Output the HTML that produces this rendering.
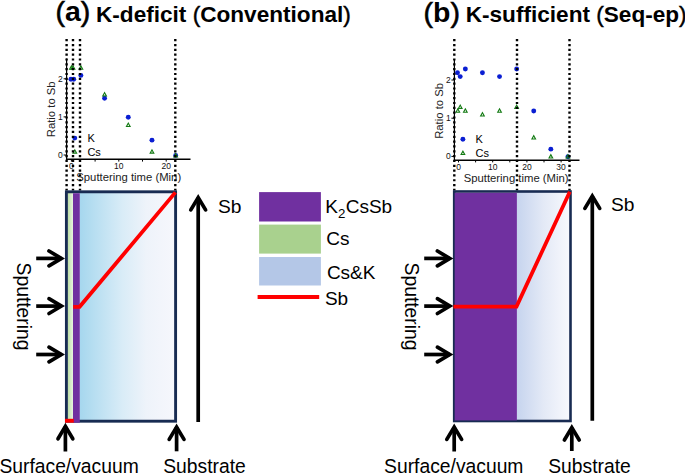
<!DOCTYPE html>
<html><head><meta charset="utf-8"><title>K-deficit vs K-sufficient</title>
<style>
html,body{margin:0;padding:0;background:#fff;}
body{width:685px;height:474px;overflow:hidden;}
svg{display:block;}
svg text{font-family:"Liberation Sans",sans-serif;}
</style></head>
<body>
<svg width="685" height="474" viewBox="0 0 685 474">
<rect width="685" height="474" fill="#fff"/>
<text x="55.4" y="20.9" font-size="28.5" font-weight="bold"><tspan font-weight="normal" stroke="#000" stroke-width="0.6">(</tspan>a<tspan font-weight="normal" stroke="#000" stroke-width="0.6">)</tspan></text>
<text x="96.0" y="21.8" font-size="22.6" font-weight="bold">K-deficit <tspan font-weight="normal" stroke="#000" stroke-width="0.45">(</tspan>Conventional<tspan font-weight="normal" stroke="#000" stroke-width="0.45">)</tspan></text>
<text x="423.5" y="21.6" font-size="28.5" font-weight="bold"><tspan font-weight="normal" stroke="#000" stroke-width="0.6">(</tspan>b<tspan font-weight="normal" stroke="#000" stroke-width="0.6">)</tspan></text>
<text x="465.7" y="21.8" font-size="22.6" font-weight="bold">K-sufficient <tspan font-weight="normal" stroke="#000" stroke-width="0.45">(</tspan>Seq-ep<tspan font-weight="normal" stroke="#000" stroke-width="0.45">)</tspan></text>
<line x1="66.6" y1="58.5" x2="66.6" y2="160" stroke="#000" stroke-width="1.2"/>
<line x1="66" y1="159.3" x2="190.5" y2="159.3" stroke="#000" stroke-width="1.4"/>
<line x1="63.6" y1="155.00" x2="66.6" y2="155.00" stroke="#000" stroke-width="1"/>
<text x="62.8" y="158.0" font-size="8.5" font-weight="normal" text-anchor="end" fill="#111">0</text>
<line x1="63.6" y1="116.90" x2="66.6" y2="116.90" stroke="#000" stroke-width="1"/>
<text x="62.8" y="119.9" font-size="8.5" font-weight="normal" text-anchor="end" fill="#111">1</text>
<line x1="63.6" y1="78.80" x2="66.6" y2="78.80" stroke="#000" stroke-width="1"/>
<text x="62.8" y="81.8" font-size="8.5" font-weight="normal" text-anchor="end" fill="#111">2</text>
<line x1="71.40" y1="159.3" x2="71.40" y2="161.6" stroke="#000" stroke-width="1"/>
<line x1="95.10" y1="159.3" x2="95.10" y2="161.6" stroke="#000" stroke-width="1"/>
<line x1="118.80" y1="159.3" x2="118.80" y2="161.6" stroke="#000" stroke-width="1"/>
<line x1="142.50" y1="159.3" x2="142.50" y2="161.6" stroke="#000" stroke-width="1"/>
<line x1="166.20" y1="159.3" x2="166.20" y2="161.6" stroke="#000" stroke-width="1"/>
<text x="71.4" y="168.8" font-size="8.5" font-weight="normal" text-anchor="middle" fill="#111">0</text>
<text x="118.8" y="168.8" font-size="8.5" font-weight="normal" text-anchor="middle" fill="#111">10</text>
<text x="166.2" y="168.8" font-size="8.5" font-weight="normal" text-anchor="middle" fill="#111">20</text>
<text x="0" y="0" font-size="11.3" transform="translate(55.3 109.3) rotate(-90)" text-anchor="middle" fill="#222">Ratio to Sb</text>
<text x="76.3" y="180.7" font-size="11.3" font-weight="normal" text-anchor="start" fill="#222">Sputtering time (Min)</text>
<circle cx="70.93" cy="79.20" r="2.45" fill="#0a1ed2"/>
<circle cx="73.77" cy="79.20" r="2.45" fill="#0a1ed2"/>
<circle cx="80.88" cy="75.39" r="2.45" fill="#0a1ed2"/>
<circle cx="104.58" cy="98.25" r="2.45" fill="#0a1ed2"/>
<circle cx="128.28" cy="117.30" r="2.45" fill="#0a1ed2"/>
<circle cx="151.98" cy="140.16" r="2.45" fill="#0a1ed2"/>
<circle cx="175.68" cy="155.40" r="2.45" fill="#0a1ed2"/>
<path d="M71.40 64.87 L74.15 69.87 L68.65 69.87 Z M70.51 68.77 L72.29 68.77 L71.40 67.15 Z" fill="#137a13" fill-rule="evenodd"/>
<path d="M73.01 64.87 L75.76 69.87 L70.26 69.87 Z M72.12 68.77 L73.90 68.77 L73.01 67.15 Z" fill="#137a13" fill-rule="evenodd"/>
<path d="M80.88 64.87 L83.63 69.87 L78.13 69.87 Z M79.99 68.77 L81.77 68.77 L80.88 67.15 Z" fill="#137a13" fill-rule="evenodd"/>
<path d="M104.58 91.54 L107.33 96.54 L101.83 96.54 Z M103.69 95.44 L105.47 95.44 L104.58 93.82 Z" fill="#137a13" fill-rule="evenodd"/>
<path d="M128.28 122.02 L131.03 127.02 L125.53 127.02 Z M127.39 125.92 L129.17 125.92 L128.28 124.30 Z" fill="#137a13" fill-rule="evenodd"/>
<path d="M151.98 148.69 L154.73 153.69 L149.23 153.69 Z M151.09 152.59 L152.87 152.59 L151.98 150.97 Z" fill="#137a13" fill-rule="evenodd"/>
<path d="M175.68 152.50 L178.43 157.50 L172.93 157.50 Z M174.79 156.40 L176.57 156.40 L175.68 154.78 Z" fill="#137a13" fill-rule="evenodd"/>
<circle cx="74.80" cy="138.10" r="2.45" fill="#0a1ed2"/>
<path d="M74.80 148.70 L77.55 153.70 L72.05 153.70 Z M73.91 152.60 L75.69 152.60 L74.80 150.98 Z" fill="#137a13" fill-rule="evenodd"/>
<text x="87.4" y="141.8" font-size="11" font-weight="normal" text-anchor="start" >K</text>
<text x="87.4" y="155.7" font-size="11" font-weight="normal" text-anchor="start" >Cs</text>
<line x1="66.6" y1="39.1" x2="66.6" y2="190.5" stroke="#000" stroke-width="2.4" stroke-dasharray="2.2 2.63"/>
<line x1="73.0" y1="39.1" x2="73.0" y2="190.5" stroke="#000" stroke-width="2.4" stroke-dasharray="2.2 2.63"/>
<line x1="80.0" y1="39.1" x2="80.0" y2="190.5" stroke="#000" stroke-width="2.4" stroke-dasharray="2.2 2.63"/>
<line x1="175.3" y1="39.1" x2="175.3" y2="190.5" stroke="#000" stroke-width="2.4" stroke-dasharray="2.2 2.63"/>
<line x1="454.4" y1="59.3" x2="454.4" y2="161" stroke="#000" stroke-width="1.2"/>
<line x1="454" y1="160.2" x2="579.5" y2="160.2" stroke="#000" stroke-width="1.4"/>
<line x1="451.4" y1="156.40" x2="454.4" y2="156.40" stroke="#000" stroke-width="1"/>
<text x="450.8" y="159.4" font-size="8.5" font-weight="normal" text-anchor="end" fill="#111">0</text>
<line x1="451.4" y1="118.20" x2="454.4" y2="118.20" stroke="#000" stroke-width="1"/>
<text x="450.8" y="121.2" font-size="8.5" font-weight="normal" text-anchor="end" fill="#111">1</text>
<line x1="451.4" y1="80.00" x2="454.4" y2="80.00" stroke="#000" stroke-width="1"/>
<text x="450.8" y="83.0" font-size="8.5" font-weight="normal" text-anchor="end" fill="#111">2</text>
<line x1="458.50" y1="160.2" x2="458.50" y2="162.4" stroke="#000" stroke-width="1"/>
<line x1="475.60" y1="160.2" x2="475.60" y2="162.4" stroke="#000" stroke-width="1"/>
<line x1="492.70" y1="160.2" x2="492.70" y2="162.4" stroke="#000" stroke-width="1"/>
<line x1="509.80" y1="160.2" x2="509.80" y2="162.4" stroke="#000" stroke-width="1"/>
<line x1="526.90" y1="160.2" x2="526.90" y2="162.4" stroke="#000" stroke-width="1"/>
<line x1="544.00" y1="160.2" x2="544.00" y2="162.4" stroke="#000" stroke-width="1"/>
<line x1="561.10" y1="160.2" x2="561.10" y2="162.4" stroke="#000" stroke-width="1"/>
<text x="458.5" y="170.0" font-size="8.5" font-weight="normal" text-anchor="middle" fill="#111">0</text>
<text x="492.7" y="170.0" font-size="8.5" font-weight="normal" text-anchor="middle" fill="#111">10</text>
<text x="526.9" y="170.0" font-size="8.5" font-weight="normal" text-anchor="middle" fill="#111">20</text>
<text x="561.1" y="170.0" font-size="8.5" font-weight="normal" text-anchor="middle" fill="#111">30</text>
<text x="0" y="0" font-size="11.3" transform="translate(443.4 110.9) rotate(-90)" text-anchor="middle" fill="#222">Ratio to Sb</text>
<text x="463.7" y="182.3" font-size="11.3" font-weight="normal" text-anchor="start" fill="#222">Sputtering time (Min)</text>
<circle cx="457.47" cy="72.76" r="2.45" fill="#0a1ed2"/>
<circle cx="460.21" cy="76.58" r="2.45" fill="#0a1ed2"/>
<circle cx="465.34" cy="68.94" r="2.45" fill="#0a1ed2"/>
<circle cx="482.44" cy="72.76" r="2.45" fill="#0a1ed2"/>
<circle cx="499.54" cy="76.58" r="2.45" fill="#0a1ed2"/>
<circle cx="516.64" cy="68.94" r="2.45" fill="#0a1ed2"/>
<circle cx="533.74" cy="110.96" r="2.45" fill="#0a1ed2"/>
<circle cx="550.84" cy="149.16" r="2.45" fill="#0a1ed2"/>
<circle cx="567.94" cy="156.80" r="2.45" fill="#0a1ed2"/>
<path d="M457.82 107.76 L460.57 112.76 L455.07 112.76 Z M456.93 111.66 L458.71 111.66 L457.82 110.04 Z" fill="#137a13" fill-rule="evenodd"/>
<path d="M460.21 103.94 L462.96 108.94 L457.46 108.94 Z M459.32 107.84 L461.10 107.84 L460.21 106.22 Z" fill="#137a13" fill-rule="evenodd"/>
<path d="M465.34 107.76 L468.09 112.76 L462.59 112.76 Z M464.45 111.66 L466.23 111.66 L465.34 110.04 Z" fill="#137a13" fill-rule="evenodd"/>
<path d="M482.44 111.58 L485.19 116.58 L479.69 116.58 Z M481.55 115.48 L483.33 115.48 L482.44 113.86 Z" fill="#137a13" fill-rule="evenodd"/>
<path d="M499.54 107.76 L502.29 112.76 L496.79 112.76 Z M498.65 111.66 L500.43 111.66 L499.54 110.04 Z" fill="#137a13" fill-rule="evenodd"/>
<path d="M516.64 103.94 L519.39 108.94 L513.89 108.94 Z M515.75 107.84 L517.53 107.84 L516.64 106.22 Z" fill="#137a13" fill-rule="evenodd"/>
<path d="M533.74 134.50 L536.49 139.50 L530.99 139.50 Z M532.85 138.40 L534.63 138.40 L533.74 136.78 Z" fill="#137a13" fill-rule="evenodd"/>
<path d="M550.84 153.60 L553.59 158.60 L548.09 158.60 Z M549.95 157.50 L551.73 157.50 L550.84 155.88 Z" fill="#137a13" fill-rule="evenodd"/>
<path d="M567.94 153.60 L570.69 158.60 L565.19 158.60 Z M567.05 157.50 L568.83 157.50 L567.94 155.88 Z" fill="#137a13" fill-rule="evenodd"/>
<circle cx="462.90" cy="139.20" r="2.45" fill="#0a1ed2"/>
<path d="M462.90 150.10 L465.65 155.10 L460.15 155.10 Z M462.01 154.00 L463.79 154.00 L462.90 152.38 Z" fill="#137a13" fill-rule="evenodd"/>
<text x="475.5" y="142.9" font-size="11" font-weight="normal" text-anchor="start" >K</text>
<text x="475.5" y="156.9" font-size="11" font-weight="normal" text-anchor="start" >Cs</text>
<line x1="454.3" y1="39.1" x2="454.3" y2="190.5" stroke="#000" stroke-width="2.4" stroke-dasharray="2.2 2.63"/>
<line x1="517.0" y1="39.1" x2="517.0" y2="190.5" stroke="#000" stroke-width="2.4" stroke-dasharray="2.2 2.63"/>
<line x1="569.5" y1="39.1" x2="569.5" y2="190.5" stroke="#000" stroke-width="2.4" stroke-dasharray="2.2 2.63"/>
<defs>
<linearGradient id="ga" x1="0" x2="1" y1="0" y2="0">
 <stop offset="0" stop-color="#a6d7ee"/><stop offset="0.45" stop-color="#d9ecf7"/><stop offset="0.7" stop-color="#eef3fa"/><stop offset="1" stop-color="#f6f7fc"/>
</linearGradient>
<linearGradient id="gg" x1="0" x2="1" y1="0" y2="0">
 <stop offset="0" stop-color="#bddfa6"/><stop offset="1" stop-color="#e8f3e0"/>
</linearGradient>
<linearGradient id="gb" x1="0" x2="1" y1="0" y2="0">
 <stop offset="0" stop-color="#c6d4ee"/><stop offset="0.5" stop-color="#e3e9f6"/><stop offset="1" stop-color="#f8f9fd"/>
</linearGradient>
</defs>
<rect x="79.8" y="192" width="95" height="229" fill="url(#ga)"/>
<rect x="67.7" y="192" width="5.4" height="229" fill="url(#gg)"/>
<rect x="66.4" y="191.8" width="109.2" height="229.4" fill="none" stroke="#182b52" stroke-width="2.9"/>
<rect x="73.0" y="193.2" width="6.8" height="229.5" fill="#7030a0"/>
<rect x="65" y="418.8" width="8.8" height="3.9" fill="#ff0000"/>
<polyline points="73.2,306.8 79.6,306.8 175.4,192.4" fill="none" stroke="#ff0000" stroke-width="3.8" stroke-linejoin="miter"/>
<rect x="516.9" y="192" width="53" height="229" fill="url(#gb)"/>
<rect x="454.2" y="191.5" width="116.3" height="229.5" fill="none" stroke="#182b52" stroke-width="2.6"/>
<rect x="454.7" y="192.8" width="62.2" height="227.6" fill="#7030a0"/>
<polyline points="453.4,306.6 516.5,306.6 569.8,191.7" fill="none" stroke="#ff0000" stroke-width="3.8" stroke-linejoin="miter"/>
<line x1="198.2" y1="421.9" x2="198.2" y2="197.51" stroke="#000" stroke-width="3.7"/>
<polyline points="190.80,209.90 198.2,197.51 205.60,209.90" fill="none" stroke="#000" stroke-width="3.7" stroke-linecap="round" stroke-linejoin="miter" stroke-miterlimit="10"/>
<line x1="592.3" y1="420.8" x2="592.3" y2="196.01" stroke="#000" stroke-width="3.7"/>
<polyline points="584.90,208.40 592.3,196.01 599.70,208.40" fill="none" stroke="#000" stroke-width="3.7" stroke-linecap="round" stroke-linejoin="miter" stroke-miterlimit="10"/>
<line x1="36.2" y1="258.4" x2="61.39" y2="258.4" stroke="#000" stroke-width="3.7"/>
<polyline points="49.00,251.00 61.39,258.4 49.00,265.80" fill="none" stroke="#000" stroke-width="3.7" stroke-linecap="round" stroke-linejoin="miter" stroke-miterlimit="10"/>
<line x1="424.2" y1="258.4" x2="449.79" y2="258.4" stroke="#000" stroke-width="3.7"/>
<polyline points="437.40,251.00 449.79,258.4 437.40,265.80" fill="none" stroke="#000" stroke-width="3.7" stroke-linecap="round" stroke-linejoin="miter" stroke-miterlimit="10"/>
<line x1="36.2" y1="306.1" x2="61.39" y2="306.1" stroke="#000" stroke-width="3.7"/>
<polyline points="49.00,298.70 61.39,306.1 49.00,313.50" fill="none" stroke="#000" stroke-width="3.7" stroke-linecap="round" stroke-linejoin="miter" stroke-miterlimit="10"/>
<line x1="424.2" y1="306.1" x2="449.79" y2="306.1" stroke="#000" stroke-width="3.7"/>
<polyline points="437.40,298.70 449.79,306.1 437.40,313.50" fill="none" stroke="#000" stroke-width="3.7" stroke-linecap="round" stroke-linejoin="miter" stroke-miterlimit="10"/>
<line x1="36.2" y1="354.5" x2="61.39" y2="354.5" stroke="#000" stroke-width="3.7"/>
<polyline points="49.00,347.10 61.39,354.5 49.00,361.90" fill="none" stroke="#000" stroke-width="3.7" stroke-linecap="round" stroke-linejoin="miter" stroke-miterlimit="10"/>
<line x1="424.2" y1="354.5" x2="449.79" y2="354.5" stroke="#000" stroke-width="3.7"/>
<polyline points="437.40,347.10 449.79,354.5 437.40,361.90" fill="none" stroke="#000" stroke-width="3.7" stroke-linecap="round" stroke-linejoin="miter" stroke-miterlimit="10"/>
<line x1="65.4" y1="451.5" x2="65.4" y2="426.41" stroke="#000" stroke-width="3.7"/>
<polyline points="58.00,438.80 65.4,426.41 72.80,438.80" fill="none" stroke="#000" stroke-width="3.7" stroke-linecap="round" stroke-linejoin="miter" stroke-miterlimit="10"/>
<line x1="176.6" y1="451.3" x2="176.6" y2="427.01" stroke="#000" stroke-width="3.7"/>
<polyline points="169.20,439.40 176.6,427.01 184.00,439.40" fill="none" stroke="#000" stroke-width="3.7" stroke-linecap="round" stroke-linejoin="miter" stroke-miterlimit="10"/>
<line x1="454.2" y1="451.5" x2="454.2" y2="427.01" stroke="#000" stroke-width="3.7"/>
<polyline points="446.80,439.40 454.2,427.01 461.60,439.40" fill="none" stroke="#000" stroke-width="3.7" stroke-linecap="round" stroke-linejoin="miter" stroke-miterlimit="10"/>
<line x1="571.8" y1="451.0" x2="571.8" y2="427.61" stroke="#000" stroke-width="3.7"/>
<polyline points="564.40,440.00 571.8,427.61 579.20,440.00" fill="none" stroke="#000" stroke-width="3.7" stroke-linecap="round" stroke-linejoin="miter" stroke-miterlimit="10"/>
<text x="218.0" y="212.6" font-size="19.2" font-weight="normal" text-anchor="start" >Sb</text>
<text x="611.0" y="211.3" font-size="19.2" font-weight="normal" text-anchor="start" >Sb</text>
<text x="0" y="0" font-size="19.3" transform="translate(16.8 262.6) rotate(90)">Sputtering</text>
<text x="0" y="0" font-size="19.3" transform="translate(405.1 262.6) rotate(90)">Sputtering</text>
<text x="-0.6" y="473.2" font-size="19.3" font-weight="normal" text-anchor="start" >Surface/vacuum</text>
<text x="163.2" y="473.4" font-size="19.3" font-weight="normal" text-anchor="start" >Substrate</text>
<text x="384.1" y="473.4" font-size="19.3" font-weight="normal" text-anchor="start" >Surface/vacuum</text>
<text x="548.2" y="473.4" font-size="19.3" font-weight="normal" text-anchor="start" >Substrate</text>
<rect x="259.1" y="192.1" width="61.8" height="29.4" fill="#7030a0"/>
<rect x="259.1" y="224.6" width="61.8" height="29.0" fill="#a9d18e"/>
<rect x="259.1" y="257.0" width="61.8" height="28.5" fill="#b4c7e7"/>
<line x1="257.6" y1="297.1" x2="319.2" y2="297.1" stroke="#ff0000" stroke-width="4"/>
<text x="325.2" y="213.2" font-size="19">K<tspan font-size="13.3" dy="4.8">2</tspan><tspan dy="-4.8" dx="0.4">CsSb</tspan></text>
<text x="326.3" y="245.4" font-size="19" font-weight="normal" text-anchor="start" >Cs</text>
<text x="326.9" y="278.5" font-size="19" font-weight="normal" text-anchor="start" >Cs&amp;K</text>
<text x="324.9" y="305.4" font-size="19" font-weight="normal" text-anchor="start" >Sb</text>
</svg>
</body></html>
